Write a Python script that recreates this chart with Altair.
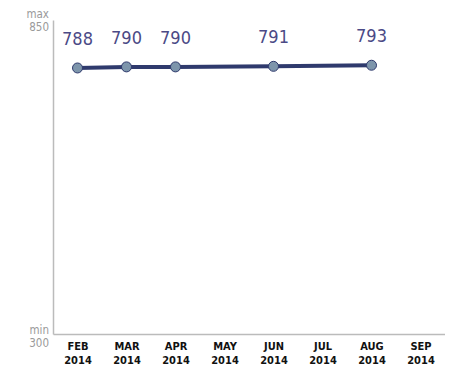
import altair as alt
import pandas as pd

months = ["FEB 2014", "MAR 2014", "APR 2014", "MAY 2014", "JUN 2014", "JUL 2014", "AUG 2014", "SEP 2014"]
point_months = ["FEB 2014", "MAR 2014", "APR 2014", "JUN 2014", "AUG 2014"]
values = [788, 790, 790, 791, 793]
bound_names = ["max", "min"]
bound_values = [850, 300]

df = pd.DataFrame({"month": point_months, "value": values})
bounds = pd.DataFrame({"name": bound_names, "value": bound_values})
bounds["label"] = bounds["name"] + "\n" + bounds["value"].astype(str)

FONT = "DejaVu Sans Condensed"
ydom = [300, 876]

x = alt.X("month:O", sort=months,
          scale=alt.Scale(domain=months, type="point", padding=0.5),
          axis=alt.Axis(title=None, labelAngle=0, ticks=False, domainColor="#bbbbbb",
                        domainWidth=1.5, labelExpr="split(datum.label, ' ')",
                        labelFont=FONT, labelFontSize=11, labelFontWeight="bold",
                        labelColor="#111111", labelPadding=6, labelLineHeight=14))
yscale = alt.Scale(domain=ydom, nice=False, zero=False)
y = alt.Y("value:Q", scale=yscale,
          axis=alt.Axis(title=None, labels=False, ticks=False, grid=False,
                        domainColor="#bbbbbb", domainWidth=1.5))

base = alt.Chart(df).encode(x=x, y=y)
line = base.mark_line(color="#2f3a6d", strokeWidth=4)
pts = base.mark_point(filled=True, size=100, fill="#7d95ab", stroke="#2f3a6d",
                      strokeWidth=1, opacity=1)
txt = base.mark_text(dy=-28, font=FONT, fontSize=18, color="#4b4a86").encode(text="value:Q")

def ann(name, dy):
    return alt.Chart(bounds).transform_filter(f"datum.name == '{name}'").mark_text(
        align="right", baseline="middle", lineBreak="\n", dy=dy,
        font=FONT, fontSize=11.5, color="#9a9a9a", lineHeight=13).encode(
        x=alt.value(-4),
        y=alt.Y("value:Q", scale=yscale),
        text="label:N")

chart = alt.layer(line, pts, txt, ann("max", -19), ann("min", -3)).properties(
    width=392, height=314,
    background="white",
    autosize=alt.AutoSizeParams(type="none"),
    padding={"left": 45, "top": 12, "right": 0, "bottom": 38},
).configure_view(strokeWidth=0, stroke="transparent")

chart.save("out.html", embed_options={"renderer": "svg", "actions": False})
